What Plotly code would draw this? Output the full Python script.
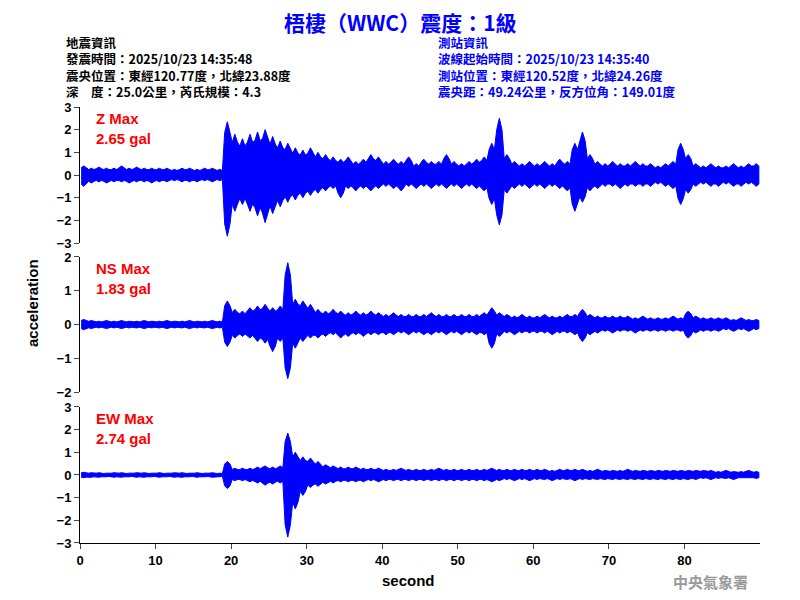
import plotly.graph_objects as go

seconds = list(range(90))
z_hi = [0.4,0.3,0.35,0.3,0.3,0.4,0.3,0.35,0.3,0.3,0.3,0.3,0.25,0.3,0.3,0.25,0.3,0.3,0.25,
        2.35,1.8,1.6,1.8,1.9,2.0,1.7,1.5,1.4,1.2,1.1,1.2,1.0,0.9,0.8,0.7,0.8,0.6,0.7,0.9,0.8,
        0.6,0.7,0.6,0.8,0.5,0.7,0.6,0.6,0.9,0.6,0.5,0.6,0.7,0.8,1.4,2.5,0.9,0.6,0.5,0.6,
        0.5,0.6,0.5,0.7,0.6,1.4,1.9,0.9,0.6,0.5,0.6,0.5,0.5,0.6,0.5,0.5,0.4,0.5,0.6,1.4,
        0.9,0.5,0.4,0.5,0.4,0.4,0.5,0.4,0.5,0.5]
z_lo = [-0.5,-0.35,-0.3,-0.35,-0.3,-0.3,-0.35,-0.3,-0.3,-0.35,-0.3,-0.3,-0.25,-0.3,-0.3,-0.3,-0.25,-0.3,-0.25,
        -2.7,-1.6,-1.3,-1.6,-1.8,-2.1,-1.7,-1.4,-1.2,-1.1,-1.0,-0.9,-0.8,-0.7,-0.6,-1.0,-0.6,-0.7,-0.6,-0.7,-0.6,
        -0.5,-0.6,-0.7,-0.5,-0.6,-0.5,-0.6,-0.5,-0.6,-0.5,-0.6,-0.5,-0.6,-0.7,-1.3,-2.2,-0.8,-0.6,-0.5,-0.6,
        -0.5,-0.6,-0.5,-0.6,-0.7,-1.6,-1.2,-0.7,-0.6,-0.5,-0.5,-0.6,-0.5,-0.5,-0.5,-0.5,-0.4,-0.5,-0.6,-1.3,
        -0.8,-0.5,-0.4,-0.5,-0.5,-0.4,-0.5,-0.5,-0.4,-0.5]
ns_hi = [0.15,0.12,0.1,0.12,0.1,0.12,0.1,0.1,0.12,0.1,0.1,0.12,0.1,0.1,0.12,0.1,0.1,0.12,0.1,
         0.7,0.45,0.4,0.5,0.55,0.6,0.5,0.55,1.83,0.75,0.7,0.6,0.45,0.4,0.45,0.4,0.35,0.4,0.35,0.4,0.35,
         0.3,0.35,0.3,0.3,0.3,0.3,0.35,0.3,0.3,0.3,0.3,0.3,0.3,0.35,0.5,0.35,0.3,0.25,0.3,0.25,
         0.25,0.3,0.25,0.25,0.3,0.3,0.45,0.3,0.25,0.25,0.25,0.25,0.25,0.2,0.25,0.2,0.2,0.2,0.25,0.2,
         0.4,0.25,0.2,0.2,0.2,0.2,0.15,0.2,0.15,0.15]
ns_lo = [-0.15,-0.12,-0.1,-0.12,-0.1,-0.12,-0.1,-0.1,-0.12,-0.1,-0.1,-0.12,-0.1,-0.1,-0.12,-0.1,-0.1,-0.12,-0.1,
         -0.65,-0.4,-0.35,-0.4,-0.5,-0.55,-0.8,-0.5,-1.6,-0.7,-0.5,-0.4,-0.4,-0.35,-0.3,-0.4,-0.35,-0.3,-0.35,-0.3,-0.3,
         -0.3,-0.3,-0.25,-0.3,-0.25,-0.3,-0.3,-0.25,-0.3,-0.25,-0.3,-0.25,-0.3,-0.3,-0.7,-0.35,-0.25,-0.3,-0.25,-0.25,
         -0.25,-0.25,-0.3,-0.25,-0.25,-0.3,-0.5,-0.3,-0.25,-0.2,-0.25,-0.2,-0.2,-0.25,-0.2,-0.2,-0.2,-0.2,-0.2,-0.2,
         -0.4,-0.25,-0.2,-0.2,-0.2,-0.15,-0.2,-0.15,-0.2,-0.15]
ew_hi = [0.12,0.1,0.1,0.08,0.1,0.1,0.08,0.1,0.1,0.08,0.1,0.08,0.1,0.1,0.08,0.1,0.08,0.1,0.08,
         0.6,0.3,0.3,0.3,0.35,0.4,0.35,0.4,1.85,1.0,0.8,0.75,0.6,0.45,0.4,0.35,0.35,0.35,0.3,0.3,0.3,
         0.25,0.25,0.3,0.25,0.25,0.25,0.25,0.3,0.25,0.25,0.25,0.25,0.25,0.25,0.3,0.25,0.25,0.25,0.25,0.25,
         0.25,0.25,0.2,0.25,0.25,0.25,0.25,0.2,0.25,0.2,0.2,0.2,0.25,0.2,0.2,0.2,0.2,0.2,0.2,0.2,
         0.2,0.2,0.2,0.2,0.15,0.2,0.15,0.15,0.2,0.15]
ew_lo = [-0.12,-0.1,-0.1,-0.08,-0.1,-0.1,-0.08,-0.1,-0.1,-0.08,-0.1,-0.08,-0.1,-0.1,-0.08,-0.1,-0.08,-0.1,-0.08,
         -0.6,-0.25,-0.25,-0.3,-0.35,-0.45,-0.4,-0.35,-2.74,-1.5,-0.9,-0.55,-0.5,-0.4,-0.35,-0.3,-0.3,-0.3,-0.3,-0.25,-0.3,
         -0.25,-0.25,-0.25,-0.25,-0.25,-0.25,-0.25,-0.25,-0.25,-0.25,-0.25,-0.25,-0.25,-0.25,-0.3,-0.25,-0.2,-0.25,-0.2,-0.25,
         -0.2,-0.2,-0.25,-0.2,-0.2,-0.25,-0.2,-0.2,-0.2,-0.2,-0.2,-0.2,-0.2,-0.2,-0.2,-0.2,-0.2,-0.2,-0.2,-0.2,
         -0.2,-0.2,-0.15,-0.2,-0.15,-0.15,-0.2,-0.15,-0.15,-0.15]

labels = ["Z Max", "NS Max", "EW Max"]
peaks = ["2.65 gal", "1.83 gal", "2.74 gal"]
yranges = [[-3, 3], [-2, 2], [-3, 3]]
ytickvals = [[-3,-2,-1,0,1,2,3], [-2,-1,0,1,2], [-3,-2,-1,0,1,2,3]]

def band(hi, lo):
    xs, ys = [], []
    for s, h in zip(seconds, hi):
        xs += [s + 0.15, s + 0.5, s + 0.85]
        ys += [h * 0.8, h, h * 0.8]
    for s, l in zip(reversed(seconds), reversed(lo)):
        xs += [s + 0.85, s + 0.5, s + 0.15]
        ys += [l * 0.8, l, l * 0.8]
    return xs, ys

fig = go.Figure()
doms = [[0.688, 1.0], [0.346, 0.656], [0.0, 0.312]]
series = [(z_hi, z_lo), (ns_hi, ns_lo), (ew_hi, ew_lo)]
tf = dict(family="Arial", size=13, color="black", weight="bold")
for i, (hi, lo) in enumerate(series):
    xs, ys = band(hi, lo)
    ax = "" if i == 0 else str(i + 1)
    fig.add_trace(go.Scatter(x=xs, y=ys, mode="lines", fill="toself", fillcolor="#0000FF",
                             line=dict(color="#0000FF", width=1),
                             xaxis="x" + ax, yaxis="y" + ax, showlegend=False, hoverinfo="skip"))
    fig.layout["yaxis" + ax] = dict(domain=doms[i], range=yranges[i], tickvals=ytickvals[i],
        showline=True, linecolor="black", ticks="outside", ticklen=5, showgrid=False, zeroline=False,
        tickfont=tf, anchor="x" + ax, automargin=False)
    fig.layout["xaxis" + ax] = dict(domain=[0, 1], range=[0, 90], anchor="y" + ax, showgrid=False,
        zeroline=False, visible=(i == 2), showline=True, linecolor="black", ticks="outside", ticklen=5,
        tickvals=[0,10,20,30,40,50,60,70,80], tickfont=tf, automargin=False)

OFF = 8
def px(x): return (x - OFF - 72) / 680
def py(y): return (535 - (y - OFF)) / 436

ann = []
def txt(x, y, t, color="black", size=14, xa="left", angle=0, fam="Arial", ya="middle"):
    ann.append(dict(x=px(x), y=py(y), xref="paper", yref="paper", text=t, showarrow=False,
                    xanchor=xa, yanchor=ya, textangle=angle, align="left",
                    font=dict(family=fam, size=size, color=color, weight="bold")))

txt(400, 22, "梧棲（WWC）震度：1級", "#0000FF", 21, "center", fam="Noto Sans CJK TC")
left = ["地震資訊", "發震時間：2025/10/23 14:35:48", "震央位置：東經120.77度，北緯23.88度", "深　度：25.0公里，芮氏規模：4.3"]
right = ["測站資訊", "波線起始時間：2025/10/23 14:35:40", "測站位置：東經120.52度，北緯24.26度", "震央距：49.24公里，反方位角：149.01度"]
txt(64, 67, "<br>".join(left), "black", 12.5, fam="Noto Sans CJK TC")
txt(436, 67, "<br>".join(right), "#0000FF", 12.5, fam="Noto Sans CJK TC")
for i, yy in enumerate([128, 278, 428]):
    txt(94, yy, labels[i] + "<br>" + peaks[i], "#FF0000", 15)
txt(32, 303, "acceleration", "black", 15, "center", -90)
txt(408, 580, "second", "black", 15, "center")
txt(710, 581, "中央氣象署", "#999999", 15, "center", fam="Noto Sans CJK TC")

fig.update_layout(width=800, height=600, margin=dict(l=72, r=48, t=99, b=65, pad=0),
                  plot_bgcolor="white", paper_bgcolor="white", annotations=ann)
fig.write_html("out.html")
